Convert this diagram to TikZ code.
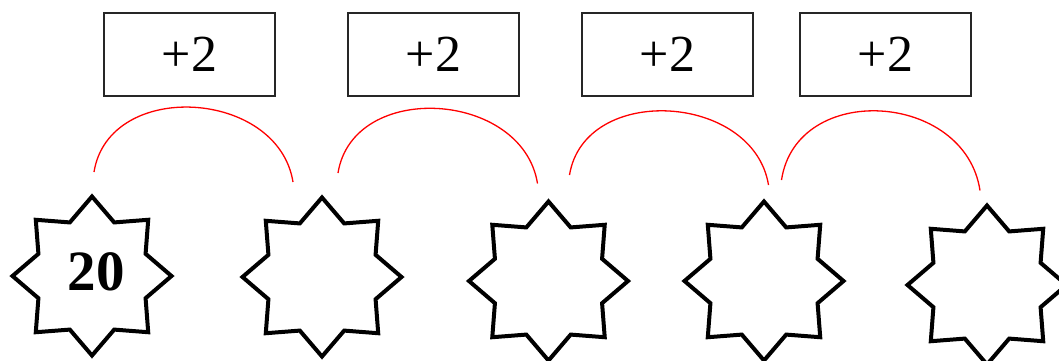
\documentclass[tikz,border=0pt]{standalone}
\usepackage{fontspec}
\setmainfont{Liberation Serif}
\begin{document}
\begin{tikzpicture}[x=1pt,y=-1pt,
  opbox/.style={draw=black!85, line width=1.2pt, minimum width=171pt, minimum height=83pt, inner sep=0pt, font=\fontsize{52}{52}\selectfont},
  starline/.style={line width=4pt, line join=miter},
  jump/.style={red, line width=1.3pt},
  numtext/.style={inner sep=0pt, font=\fontsize{57}{57}\selectfont\bfseries}]
\useasboundingbox (0,0) rectangle (1059,360);
\clip (0,0) rectangle (1059,360);
% operation boxes
\node[opbox] (b1) at (189.5,54.5) {+2};
\node[opbox] (b2) at (433.5,54.5) {+2};
\node[opbox] (b3) at (667.5,54.5) {+2};
\node[opbox] (b4) at (885.5,54.5) {+2};
% star centres
\coordinate (s1) at (92,276);
\coordinate (s2) at (322,277);
\coordinate (s3) at (548.5,281);
\coordinate (s4) at (764,281);
\coordinate (s5) at (987,285);
\foreach \s in {s1,s2,s3,s4,s5}{
  \draw[starline, shift={(\s)}] plot[samples at={0,...,15}, variable=\k]
    ({90+22.5*\k}:{ifthenelse(mod(\k,2)==0,79.5,58)}) -- cycle;
}
\node[numtext] (n20) at (96,272) {20};
% arcs
\coordinate (a1s) at (94,172);   \coordinate (a1e) at (293,182);
\coordinate (a2s) at (338,173);  \coordinate (a2e) at (537.5,183.5);
\coordinate (a3s) at (569.5,175);\coordinate (a3e) at (768.5,185);
\coordinate (a4s) at (781.5,180);\coordinate (a4e) at (980,190.5);
\draw[jump] (a1s) .. controls +(15,-93) and +(-15,-93) .. (a1e);
\draw[jump] (a2s) .. controls +(15,-93) and +(-15,-93) .. (a2e);
\draw[jump] (a3s) .. controls +(15,-92) and +(-15,-92) .. (a3e);
\draw[jump] (a4s) .. controls +(15,-99) and +(-15,-99) .. (a4e);
\end{tikzpicture}
\end{document}
